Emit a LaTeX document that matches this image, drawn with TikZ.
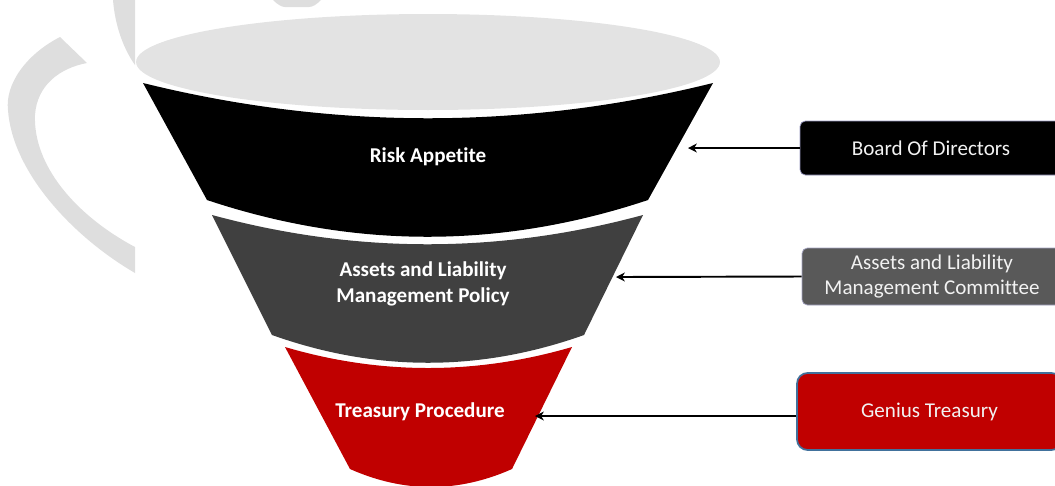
\documentclass[tikz,border=0pt]{standalone}
\usepackage{fontspec}
\setmainfont{Carlito}[Ligatures=NoCommon]
\usetikzlibrary{arrows.meta}
\definecolor{clair}{HTML}{E3E3E3}
\definecolor{filigrane}{HTML}{DEDEDE}
\definecolor{gris}{HTML}{404040}
\definecolor{rouge}{HTML}{C00000}
\definecolor{comite}{HTML}{595959}
\definecolor{bleu}{HTML}{41719C}
\begin{document}
\begin{tikzpicture}[x=0.02cm,y=-0.02cm]
    \tikzset{etage/.style={text=white, align=center, font=\bfseries\fontsize{12}{14.5}\selectfont}}
    \tikzset{boite/.style={draw, rounded corners=3pt, minimum height=1.08cm, minimum width=5.24cm, text=white!95!black, align=center, font=\fontsize{12}{14.5}\selectfont}}
    \tikzset{fleche/.style={-{Stealth[length=5pt,width=5pt,inset=1.5pt]}, line width=1.1pt}}
    \useasboundingbox (0,0) rectangle (1055,485);
    % logo en filigrane
    \fill[filigrane] (60,37) .. controls (25,55) and (5,85) .. (8,110) .. controls (12,170) and (70,235) .. (135,273)
      -- (135,247) .. controls (75,215) and (33,165) .. (35,115) .. controls (37,85) and (60,68) .. (87,63) -- cycle;
    \fill[filigrane] (113,0) .. controls (115,25) and (123,48) .. (135,65) -- (135,0) -- cycle;
    \fill[filigrane] (273,0) .. controls (278,5) and (282,7) .. (285,7) -- (309,7) .. controls (313,7) and (317,4) .. (321,0) -- cycle;
    % entonnoir
    \fill[clair] (428,62) ellipse [x radius=5.84cm, y radius=0.96cm];
    \fill[black] (143,83) .. controls (333,130) and (523,130) .. (713,83)
      -- (648,200) .. controls (501,249) and (354,249) .. (207,200) -- cycle;
    \fill[gris] (212,215) .. controls (356,254) and (499,254) .. (643,215)
      -- (584,335) .. controls (480,372) and (376,372) .. (272,335) -- cycle;
    \fill[rouge] (285,347) .. controls (380,375) and (476,375) .. (572,347)
      -- (512,469) .. controls (458,493) and (404,493) .. (350,469) -- cycle;
    \node[etage] (RA) at (428,157) {Risk Appetite};
    \node[etage] (ALMP) at (423,284) {Assets and Liability\\Management Policy};
    \node[etage] (TP) at (420,412) {Treasury Procedure};
    % acteurs
    \node[boite, fill=black, draw=black!60!blue!40] (CA) at (931,148) {Board Of Directors};
    \node[boite, fill=comite, draw=blue!20!gray!60, minimum width=5.2cm, minimum height=1.14cm] (ALCO) at (932,276.5) {Assets and Liability\\Management Committee};
    \node[boite, fill=rouge, draw=bleu, line width=1pt, rounded corners=6pt, minimum width=5.3cm, minimum height=1.54cm] (GT) at (929.5,411.5) {Genius Treasury};
    \coordinate (fA) at (688,148);
    \coordinate (fB) at (616,277);
    \coordinate (fC) at (535,416);
    \draw[fleche] (CA.west) -- (fA);
    \draw[fleche] (ALCO.west) -- (fB);
    \draw[fleche] (fC -| GT.west) -- (fC);
  \end{tikzpicture}
\end{document}
